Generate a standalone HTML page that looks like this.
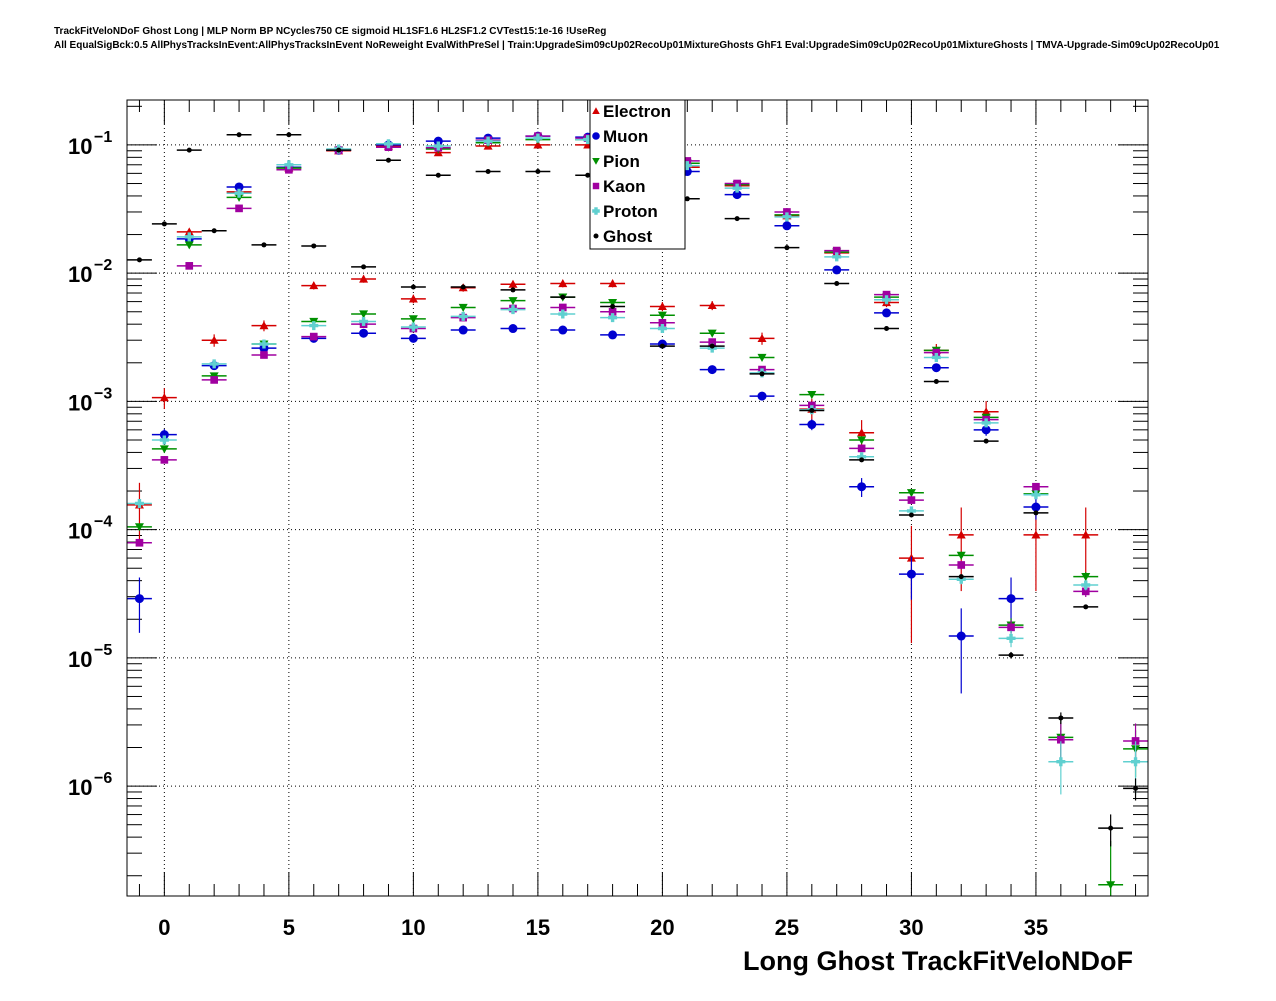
<!DOCTYPE html>
<html><head><meta charset="utf-8">
<style>
html,body{margin:0;padding:0;background:#fff;}
body{width:1276px;height:996px;overflow:hidden;font-family:"Liberation Sans",sans-serif;}
</style></head>
<body>
<svg id="chart" width="1276" height="996" xmlns="http://www.w3.org/2000/svg" font-family="Liberation Sans, sans-serif">
<text x="54" y="34" font-size="10" font-weight="bold">TrackFitVeloNDoF Ghost Long | MLP Norm BP NCycles750 CE sigmoid HL1SF1.6 HL2SF1.2 CVTest15:1e-16 !UseReg</text>
<text x="54" y="48" font-size="10" font-weight="bold">All EqualSigBck:0.5 AllPhysTracksInEvent:AllPhysTracksInEvent NoReweight EvalWithPreSel | Train:UpgradeSim09cUp02RecoUp01MixtureGhosts GhF1 Eval:UpgradeSim09cUp02RecoUp01MixtureGhosts | TMVA-Upgrade-Sim09cUp02RecoUp01</text>
<g id="grid"></g>
<g id="axes"></g>
<g id="marks"></g>
<rect x="127" y="100" width="1021" height="796" fill="none" stroke="#000" stroke-width="1"/>
<g id="legend"></g>
<text x="1133" y="970" font-size="27" font-weight="bold" text-anchor="end">Long Ghost TrackFitVeloNDoF</text>
</svg>
<script>
const bins = [-1,0,1,2,3,4,5,6,7,8,9,10,11,12,13,14,15,16,17,18,19,20,21,22,23,24,25,26,27,28,29,30,31,32,33,34,35,36,37,38,39];
const electron = [1.56e-4,1.07e-3,0.021,3.0e-3,0.043,3.9e-3,0.066,8.0e-3,0.09,9.0e-3,0.098,6.3e-3,0.087,7.7e-3,0.098,8.2e-3,0.1,8.3e-3,0.1,8.3e-3,0.085,5.5e-3,0.067,5.6e-3,0.048,3.1e-3,0.028,8.7e-4,0.0144,5.7e-4,5.9e-3,6.0e-5,2.5e-3,9.1e-5,8.3e-4,null,9.1e-5,null,9.1e-5,null,null];
const muon = [2.9e-5,5.5e-4,0.0185,1.9e-3,0.047,2.6e-3,0.067,3.1e-3,0.091,3.4e-3,0.1,3.1e-3,0.107,3.6e-3,0.113,3.7e-3,0.117,3.6e-3,0.115,3.3e-3,0.062,2.8e-3,0.062,1.77e-3,0.041,1.1e-3,0.0234,6.6e-4,0.0106,2.16e-4,4.9e-3,4.5e-5,1.83e-3,1.48e-5,6.0e-4,2.9e-5,1.5e-4,null,null,null,null];
const pion = [1.05e-4,4.26e-4,0.0166,1.58e-3,0.039,2.8e-3,0.066,4.2e-3,0.091,4.8e-3,0.096,4.4e-3,0.093,5.4e-3,0.104,6.1e-3,0.11,6.5e-3,0.11,5.9e-3,0.072,4.7e-3,0.072,3.4e-3,0.049,2.2e-3,0.0285,1.13e-3,0.0146,5.0e-4,6.5e-3,1.94e-4,2.5e-3,6.3e-5,7.5e-4,1.8e-5,1.9e-4,2.4e-6,4.3e-5,1.7e-7,1.95e-6];
const kaon = [7.9e-5,3.5e-4,0.0114,1.47e-3,0.032,2.3e-3,0.064,3.2e-3,0.091,4.0e-3,0.096,3.7e-3,0.095,4.5e-3,0.109,5.3e-3,0.117,5.4e-3,0.113,5.0e-3,0.076,4.1e-3,0.075,2.9e-3,0.05,1.77e-3,0.03,9.3e-4,0.015,4.3e-4,6.8e-3,1.7e-4,2.4e-3,5.3e-5,7.2e-4,1.73e-5,2.16e-4,2.3e-6,3.3e-5,null,2.25e-6];
const proton = [1.6e-4,5.0e-4,0.0192,1.96e-3,0.042,2.8e-3,0.07,3.9e-3,0.093,4.2e-3,0.102,3.8e-3,0.098,4.6e-3,0.107,5.2e-3,0.113,4.8e-3,0.11,4.5e-3,0.07,3.7e-3,0.069,2.6e-3,0.046,1.67e-3,0.0275,8.6e-4,0.0134,3.7e-4,6.2e-3,1.4e-4,2.2e-3,4.1e-5,6.8e-4,1.42e-5,1.87e-4,1.55e-6,3.7e-5,null,1.55e-6];
const ghost = [0.0127,0.0242,0.091,0.0214,0.12,0.0166,0.12,0.0163,0.091,0.0112,0.076,7.8e-3,0.058,7.8e-3,0.062,7.4e-3,0.062,6.5e-3,0.058,5.5e-3,0.058,2.7e-3,0.038,2.7e-3,0.0266,1.64e-3,0.0158,8.5e-4,8.3e-3,3.5e-4,3.7e-3,1.3e-4,1.43e-3,4.3e-5,4.9e-4,1.05e-5,1.35e-4,3.4e-6,2.5e-5,4.7e-7,9.6e-7];
const seriesNames = ["Electron","Muon","Pion","Kaon","Proton","Ghost"];
const seriesColors = ["#d40000","#0000d0","#009000","#a000a0","#60d0d0","#000000"];
const seriesErrScale = [3e-4,5e-5,2.5e-6,2.5e-6,2.5e-6,3e-7];
const xTicks = [0,5,10,15,20,25,30,35];
const yDecades = [-1,-2,-3,-4,-5,-6];
const yTickLabels = ["−1","−2","−3","−4","−5","−6"];

const NS="http://www.w3.org/2000/svg";
const L=127,R=1148,T=100,B=896;
const xMin=-1.5,xMax=39.5,yMinLog=Math.log10(1.39e-7),yMaxLog=Math.log10(0.224);
function X(v){return L+(v-xMin)/(xMax-xMin)*(R-L);}
function Y(v){return B-(Math.log10(v)-yMinLog)/(yMaxLog-yMinLog)*(B-T);}
function mk(tag,attrs,parent){const e=document.createElementNS(NS,tag);for(const k in attrs)e.setAttribute(k,attrs[k]);parent.appendChild(e);return e;}
const grid=document.getElementById('grid'),axes=document.getElementById('axes'),marks=document.getElementById('marks'),legend=document.getElementById('legend');

xTicks.forEach(t=>{const l=mk('line',{x1:X(t),x2:X(t),y1:T,y2:B,stroke:'#000','stroke-width':1,'stroke-dasharray':'1,3'},grid);

});
yDecades.forEach(d=>{const y=Y(Math.pow(10,d));const l=mk('line',{x1:L,x2:R,y1:y,y2:y,stroke:'#000','stroke-width':1,'stroke-dasharray':'1,3'},grid);

});

for(let v=-1;v<=39;v++){const major=(v%5===0);const len=major?24:12;const x=X(v);
mk('line',{x1:x,x2:x,y1:B,y2:B-len,stroke:'#000'},axes);
mk('line',{x1:x,x2:x,y1:T,y2:T+len,stroke:'#000'},axes);}
xTicks.forEach(t=>{const tx=mk('text',{x:X(t),y:935,'font-size':22,'font-weight':'bold','text-anchor':'middle'},axes);tx.textContent=String(t);

});
for(let d=-7;d<=-1;d++){for(let m=1;m<=9;m++){const v=m*Math.pow(10,d);const lv=Math.log10(v);if(lv<yMinLog||lv>yMaxLog)continue;const len=m===1?30:15;const y=Y(v);
mk('line',{x1:L,x2:L+len,y1:y,y2:y,stroke:'#000'},axes);
mk('line',{x1:R,x2:R-len,y1:y,y2:y,stroke:'#000'},axes);}}
yDecades.forEach((d,i)=>{const y=Y(Math.pow(10,d));const t=mk('text',{x:68,y:y+9,'font-size':22,'font-weight':'bold'},axes);t.textContent='10';


const s=mk('text',{x:94,y:y-3,'font-size':16,'font-weight':'bold'},axes);s.textContent=yTickLabels[i];

});

function marker(kind,x,y,c,parent,sz){
  const s=sz||4.5;let e;
  if(kind===0)e=mk('polygon',{points:`${x},${y-s} ${x-s},${y+s*0.8} ${x+s},${y+s*0.8}`,fill:c},parent);
  else if(kind===1)e=mk('circle',{cx:x,cy:y,r:s,fill:c},parent);
  else if(kind===2)e=mk('polygon',{points:`${x},${y+s} ${x-s},${y-s*0.8} ${x+s},${y-s*0.8}`,fill:c},parent);
  else if(kind===3)e=mk('rect',{x:x-s*0.85,y:y-s*0.85,width:s*1.7,height:s*1.7,fill:c},parent);
  else if(kind===4)e=mk('path',{d:`M${x-1.7},${y-s}h3.4v${s-1.7}h${s-1.7}v3.4h${-(s-1.7)}v${s-1.7}h-3.4v${-(s-1.7)}h${-(s-1.7)}v-3.4h${s-1.7}z`,fill:c},parent);
  else e=mk('circle',{cx:x,cy:y,r:2.5,fill:c},parent);
  return e;
}
const allSeries=[electron,muon,pion,kaon,proton,ghost];
allSeries.forEach((arr,si)=>{
  const g=mk('g',{},marks);
  
  
  const c=seriesColors[si];
  arr.forEach((v,i)=>{
    if(v===null||v===undefined||v<=0)return;
    const b=bins[i];const x=X(b),y=Y(v);
    const r=Math.min(1.2,Math.sqrt(seriesErrScale[si]/v)*0.35);
    const hi=Y(v*(1+r));const lo=v*(1-r)>Math.pow(10,yMinLog)?Y(v*(1-r)):B;
    mk('line',{x1:X(b-0.5),x2:X(b+0.5),y1:y,y2:y,stroke:c,'stroke-width':1.5},g);
    mk('line',{x1:x,x2:x,y1:hi,y2:Math.min(lo,B),stroke:c,'stroke-width':1.2},g);
    const m=marker(si,x,y,c,g);
    
    
  });
});

const lb=mk('rect',{x:590,y:100,width:95,height:149,fill:'#fff',stroke:'#000'},legend);


seriesNames.forEach((n,i)=>{const y=111+25*i;
  const m=marker(i,596,y,seriesColors[i],legend,i===5?2.5:3.8);
  
  
  const t=mk('text',{x:603,y:y+6,'font-size':17,'font-weight':'bold'},legend);t.textContent=n;
  
  
});
</script>
</body></html>
